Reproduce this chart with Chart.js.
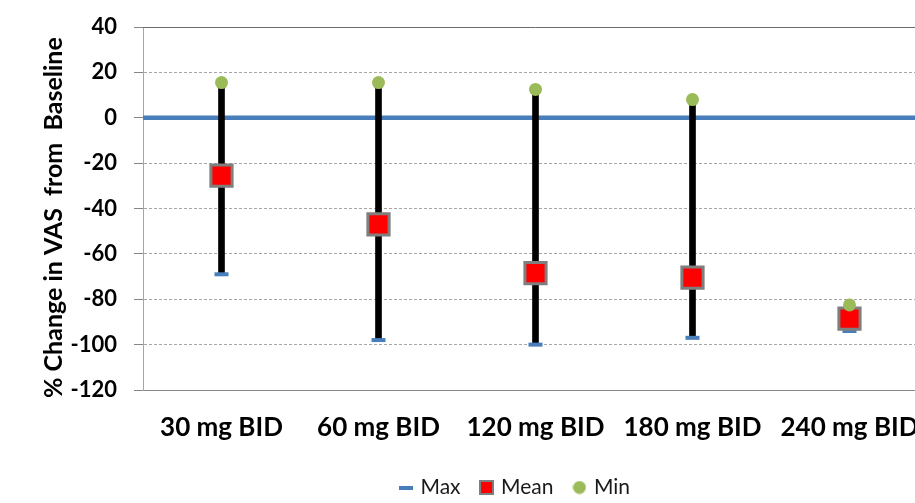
<!DOCTYPE html>
<html><head><meta charset="utf-8">
<script src="https://cdn.jsdelivr.net/npm/chart.js@4/dist/chart.umd.min.js"></script>
<style>html,body{margin:0;padding:0;background:#fff;overflow:hidden;width:915px;height:503px}canvas{display:block}</style>
</head><body>
<canvas id="c" width="1032" height="503"></canvas>
<script>
const categories = ['30 mg BID', '60 mg BID', '120 mg BID', '180 mg BID', '240 mg BID'];
const maxValues = [-69, -98, -100, -97, -94];
const meanValues = [-25.5, -47, -68.5, -70.5, -88.5];
const minValues = [15.5, 15.5, 12.5, 8, -82.5];
const yTicks = [40, 20, 0, -20, -40, -60, -80, -100, -120];
const seriesNames = ['Max', 'Mean', 'Min'];
const yTitle = '% Change in VAS  from  Baseline';

const BLUE = '#4a7ebb', RED = '#ff0000', GRAY = '#7f7f7f', GREEN = '#9bbb59';
const FONT = 'Lato, "Open Sans", "Liberation Sans", sans-serif';

function mk(w, h, draw) { const c = document.createElement('canvas'); c.width = w; c.height = h; draw(c.getContext('2d')); return c; }
const legMax = mk(14, 4, g => { g.fillStyle = BLUE; g.fillRect(0, 0, 14, 4); });
const legMean = mk(15, 15, g => { g.fillStyle = GRAY; g.fillRect(0, 0, 15, 15); g.fillStyle = RED; g.fillRect(2, 2, 11, 11); });
const legMin = mk(14, 14, g => { g.fillStyle = GREEN; g.beginPath(); g.arc(7, 7, 6.5, 0, Math.PI * 2); g.fill(); });

const rangeData = categories.map((c, i) => [maxValues[i], minValues[i]]);

const refLines = {
  id: 'refLines',
  beforeDatasetsDraw(chart) {
    const {ctx, chartArea: a, scales: {y}} = chart;
    ctx.save();
    const yt = Math.round(y.getPixelForValue(yTicks[0])) + 0.5;
    ctx.strokeStyle = '#6b6b6b'; ctx.lineWidth = 1;
    ctx.beginPath(); ctx.moveTo(a.left, yt); ctx.lineTo(a.right, yt); ctx.stroke();
    const y0 = y.getPixelForValue(0);
    ctx.strokeStyle = BLUE; ctx.lineWidth = 4.5;
    ctx.beginPath(); ctx.moveTo(a.left, y0); ctx.lineTo(a.right, y0); ctx.stroke();
    ctx.restore();
  }
};

new Chart(document.getElementById('c'), {
  type: 'bar',
  data: {
    labels: categories,
    datasets: [
      { type: 'bar', label: 'range', data: rangeData, backgroundColor: '#000', borderWidth: 0, barThickness: 6, order: 3 },
      { type: 'line', label: seriesNames[0], data: maxValues, showLine: false, pointStyle: 'line', pointRadius: 7, pointBorderWidth: 4, pointBorderColor: BLUE, borderColor: BLUE, backgroundColor: BLUE, order: 2 },
      { type: 'line', label: seriesNames[1], data: meanValues, showLine: false, pointStyle: 'rect', pointRadius: 15, pointBorderWidth: 3, pointBorderColor: GRAY, pointBackgroundColor: RED, borderColor: GRAY, backgroundColor: RED, order: 1 },
      { type: 'line', label: seriesNames[2], data: minValues, showLine: false, pointStyle: 'circle', pointRadius: 6.5, pointBorderWidth: 0, pointBackgroundColor: GREEN, borderColor: GREEN, backgroundColor: GREEN, order: 0 }
    ]
  },
  options: {
    responsive: false,
    animation: false,
    layout: { autoPadding: false, padding: { top: 27, left: 0, right: 0, bottom: -5 } },
    plugins: {
      tooltip: { enabled: false },
      legend: {
        position: 'bottom',
        labels: {
          usePointStyle: true,
          boxWidth: 8,
          boxHeight: 8,
          padding: 22,
          color: '#1a1a1a',
          font: { family: FONT, size: 21 },
          generateLabels: () => [
            { text: seriesNames[0], pointStyle: legMax, fillStyle: BLUE, strokeStyle: BLUE, lineWidth: 0, hidden: false, datasetIndex: 1, fontColor: '#1a1a1a' },
            { text: seriesNames[1], pointStyle: legMean, fillStyle: RED, strokeStyle: GRAY, lineWidth: 0, hidden: false, datasetIndex: 2, fontColor: '#1a1a1a' },
            { text: seriesNames[2], pointStyle: legMin, fillStyle: GREEN, strokeStyle: GREEN, lineWidth: 0, hidden: false, datasetIndex: 3, fontColor: '#1a1a1a' }
          ]
        }
      }
    },
    scales: {
      x: {
        offset: true,
        grid: { display: true, color: 'rgba(0,0,0,0)', drawTicks: false },
        border: { display: true, color: '#868686', width: 1 },
        ticks: { color: '#000', padding: 22, maxRotation: 0, autoSkip: false, font: { family: FONT, size: 26, weight: 'bold' } },
        afterFit: s => { s.height = 65; }
      },
      y: {
        position: 'left',
        min: -120, max: 40,
        afterBuildTicks: s => { s.ticks = yTicks.map(v => ({ value: v })); },
        grid: {
          color: c => (c.tick && (c.tick.value === 40 || c.tick.value === 0 || c.tick.value === -120)) ? 'rgba(0,0,0,0)' : '#a6a6a6',
          tickColor: '#868686', tickLength: 9, lineWidth: 1
        },
        border: { display: true, color: '#a6a6a6', width: 1, dash: [3, 2] },
        ticks: { color: '#000', padding: 17, font: { family: FONT, size: 22, weight: 'bold' } },
        title: { display: true, text: yTitle + '   ', color: '#000', padding: { top: 39, bottom: 0 }, font: { family: FONT, size: 25, weight: 'bold' } },
        afterFit: s => { s.width = 143; s.paddingTop = 0; s.paddingBottom = 0; }
      },
      yR: {
        position: 'right',
        display: true,
        grid: { display: false }, border: { display: false },
        ticks: { display: false },
        afterFit: s => { s.width = 104; s.paddingTop = 0; s.paddingBottom = 0; }
      }
    }
  },
  plugins: [refLines]
});
</script>
</body></html>
